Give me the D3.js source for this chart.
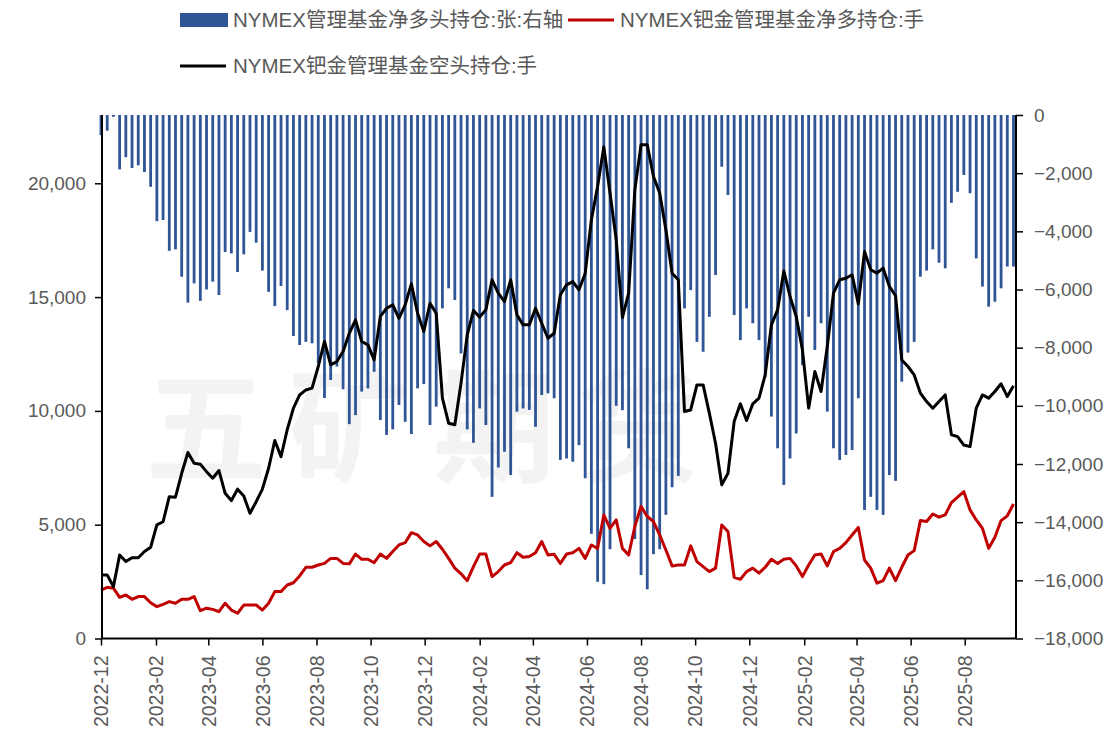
<!DOCTYPE html>
<html><head><meta charset="utf-8">
<script src="https://cdn.jsdelivr.net/npm/d3@7/dist/d3.min.js"></script>
<style>
html,body{margin:0;padding:0;background:#fff;}
svg{display:block;font-family:"Liberation Sans","Noto Sans CJK SC",sans-serif;}
</style></head>
<body>
<svg id="chart" width="1104" height="737"></svg>
<script>
// ---- data (weekly, Tuesdays 2022-12-06 .. 2025-09-30) ----
const dates = d3.timeTuesday.range(new Date(2022, 11, 6), new Date(2025, 9, 1));
const netPositionBars = [ // NYMEX管理基金净多头持仓:张 (right axis)
-690,-540,-60,-1870,-1450,-1820,-1730,-1960,-2470,-3650,-3610,-4670,-4620,-5560,-6450,-5790,-6390,-6000,-5730,-6190,
-4710,-4760,-5400,-4790,-4020,-4390,-5350,-6080,-6570,-5880,-6710,-7600,-7910,-7800,-7850,-8530,-9730,-9110,-8650,-9430,
-10630,-10320,-9510,-9400,-8830,-10490,-11000,-10810,-9970,-10550,-10970,-9400,-9250,-10660,-10030,-6650,-5960,-6360,-8200,-10810,
-11270,-10090,-10660,-13130,-12120,-11580,-12380,-10200,-10090,-10140,-10720,-9630,-9570,-9740,-11860,-11810,-11920,-11350,-12490,-14400,
-16050,-16130,-14930,-10000,-10150,-11460,-14580,-15820,-16310,-15100,-14930,-13750,-12800,-12410,-6650,-6020,-7800,-8140,-6940,-5500,
-1780,-2750,-6880,-7740,-6650,-7160,-7740,-9000,-10370,-11460,-12720,-11810,-10950,-8600,-6940,-8080,-7160,-10200,-11460,-11860,
-11690,-11520,-9740,-13580,-13130,-13580,-13750,-12380,-12580,-9170,-8170,-7800,-5560,-5350,-4620,-5080,-5270,-3020,-2640,-2060,
-2690,-4930,-5900,-6590,-6420,-5960,-5210,-5210];
const palladiumNetLong = [ // NYMEX钯金管理基金净多持仓:手 (left axis)
2130,2250,2210,1810,1910,1720,1840,1840,1570,1400,1500,1620,1550,1720,1720,1840,1220,1330,1280,1180,
1550,1250,1110,1470,1470,1470,1250,1550,2060,2060,2350,2450,2750,3130,3130,3230,3300,3520,3520,3300,
3280,3710,3480,3480,3330,3710,3520,3820,4110,4210,4650,4550,4260,4070,4260,3920,3520,3090,2840,2540,
3160,3710,3710,2720,2940,3230,3330,3770,3570,3600,3770,4260,3670,3700,3300,3710,3770,3960,3520,4110,
3960,5430,4840,5210,3960,3670,4920,5800,5360,5140,4550,3890,3190,3230,3230,4070,3380,3160,2940,3090,
4990,4700,2690,2600,2940,3090,2870,3130,3480,3300,3480,3520,3190,2720,3230,3670,3710,3190,3820,3960,
4210,4550,4880,3450,3090,2430,2540,3090,2540,3130,3670,3860,5180,5140,5470,5330,5430,5970,6210,6450,
5650,5210,4840,3960,4450,5180,5390,5910];
const palladiumShort = [ // NYMEX钯金管理基金空头持仓:手 (left axis)
2790,2790,2280,3670,3380,3550,3550,3820,4010,4990,5130,6230,6210,7260,8170,7700,7660,7330,7040,7380,
6380,6060,6560,6260,5500,6010,6560,7480,8700,7990,9170,10120,10700,10920,11000,11950,13050,12020,12170,12610,
13410,14000,13050,12900,12240,14150,14510,14660,14070,14660,15580,14290,13490,14730,14290,10560,9460,9390,11220,13340,
14410,14120,14440,15760,15170,14800,15760,14220,13780,13780,14510,13850,13190,13410,15100,15540,15680,15320,16040,18400,
19860,21600,19570,17520,14100,15170,19710,21690,21690,20300,19570,17960,16050,15760,9970,10040,11140,11140,9900,8580,
6750,7260,9530,10310,9575,10310,10557,11580,13780,14440,16150,15025,14150,12680,10120,11730,10850,12830,15170,15760,
15830,15980,14700,17000,16200,16050,16270,15470,15060,12240,11950,11580,10780,10410,10120,10410,10700,8950,8870,8500,
8430,10120,10700,10560,10850,11190,10630,11100];
const xTickLabels = ["2022-12","2023-02","2023-04","2023-06","2023-08","2023-10","2023-12","2024-02","2024-04",
  "2024-06","2024-08","2024-10","2024-12","2025-02","2025-04","2025-06","2025-08"];
const leftTicks = [0,5000,10000,15000,20000];
const rightTicks = [0,-2000,-4000,-6000,-8000,-10000,-12000,-14000,-16000,-18000];
const legendNames = ["NYMEX管理基金净多头持仓:张:右轴","NYMEX钯金管理基金净多持仓:手","NYMEX钯金管理基金空头持仓:手"];

// ---- layout ----
const svg = d3.select("#chart");
const L = 102, R = 1016, T = 115, B = 638.5;
const x = d3.scaleTime().domain([dates[0], dates[dates.length-1]]).range([101, 1013.5]);
const yL = d3.scaleLinear().domain([0, 23000]).range([B, T]);
const yR = d3.scaleLinear().domain([-18000, 0]).range([B, T]);
const textColor = "#595959";

// watermark
svg.append("text").attr("x", 145).attr("y", 472).text("五矿期货")
  .attr("font-size", 122).attr("font-weight", "bold").attr("letter-spacing", 22)
  .attr("font-family", "Noto Sans CJK SC").attr("fill", "#000").attr("opacity", 0.045);

// bars
const bw = 2.8;
svg.append("g").selectAll("rect").data(netPositionBars).join("rect")
  .attr("x", (d, i) => x(dates[i]) - bw/2)
  .attr("y", yR(0))
  .attr("width", bw)
  .attr("height", d => yR(d) > yR(0) ? yR(d) - yR(0) : 0)
  .attr("fill", "#2f5597");

// lines
const lineGen = arr => d3.line().x((d, i) => x(dates[i])).y(d => yL(d))(arr);
svg.append("path").attr("d", lineGen(palladiumNetLong)).attr("fill", "none")
  .attr("stroke", "#c00000").attr("stroke-width", 3).attr("stroke-linejoin", "round");
svg.append("path").attr("d", lineGen(palladiumShort)).attr("fill", "none")
  .attr("stroke", "#000").attr("stroke-width", 3).attr("stroke-linejoin", "round");

// axes
const fmt = d3.format(",");
const gL = svg.append("g").attr("transform", `translate(${L},0)`)
  .call(d3.axisLeft(yL).tickValues(leftTicks).tickFormat(fmt).tickSize(7).tickSizeOuter(0));
const gR = svg.append("g").attr("transform", `translate(${R},0)`)
  .call(d3.axisRight(yR).tickValues(rightTicks).tickFormat(fmt).tickSize(7).tickSizeOuter(0));
const tickDates = xTickLabels.map(s => { const [yy, mm] = s.split("-").map(Number); return new Date(yy, mm-1, 6); });
const gB = svg.append("g").attr("transform", `translate(0,${B})`)
  .call(d3.axisBottom(x).tickValues(tickDates).tickFormat(d3.timeFormat("%Y-%m")).tickSize(7).tickSizeOuter(0));
[gL, gR, gB].forEach(g => {
  g.select(".domain").remove();
  g.selectAll(".tick line").attr("stroke", "#000").attr("stroke-width", 1.5);
  g.selectAll(".tick text").attr("fill", textColor).attr("font-size", 19)
    .attr("font-family", "Liberation Sans, sans-serif");
});
gL.selectAll(".tick text").attr("x", -16);
gR.selectAll(".tick text").attr("x", 18);
gB.selectAll(".tick text").attr("font-size", 19.5).attr("transform", "rotate(-90)").attr("text-anchor", "end")
  .attr("x", -17).attr("y", 0).attr("dy", "0.35em");
// axis lines
svg.append("line").attr("x1", L).attr("x2", L).attr("y1", T).attr("y2", B).attr("stroke", "#000").attr("stroke-width", 2);
svg.append("line").attr("x1", R).attr("x2", R).attr("y1", T).attr("y2", B).attr("stroke", "#000").attr("stroke-width", 2);
svg.append("line").attr("x1", L).attr("x2", R).attr("y1", B).attr("y2", B).attr("stroke", "#000").attr("stroke-width", 2);

// legend
const lg = svg.append("g").attr("font-size", 20.5).attr("fill", textColor);
lg.append("rect").attr("x", 180).attr("y", 13).attr("width", 48).attr("height", 14).attr("fill", "#2f5597");
lg.append("text").attr("x", 233).attr("y", 20).attr("dy", "0.35em").text(legendNames[0]);
lg.append("line").attr("x1", 568).attr("x2", 614).attr("y1", 20).attr("y2", 20).attr("stroke", "#c00000").attr("stroke-width", 3);
lg.append("text").attr("x", 620).attr("y", 20).attr("dy", "0.35em").text(legendNames[1]);
lg.append("line").attr("x1", 180).attr("x2", 226).attr("y1", 66).attr("y2", 66).attr("stroke", "#000").attr("stroke-width", 3);
lg.append("text").attr("x", 233).attr("y", 66).attr("dy", "0.35em").text(legendNames[2]);
</script>
</body></html>
